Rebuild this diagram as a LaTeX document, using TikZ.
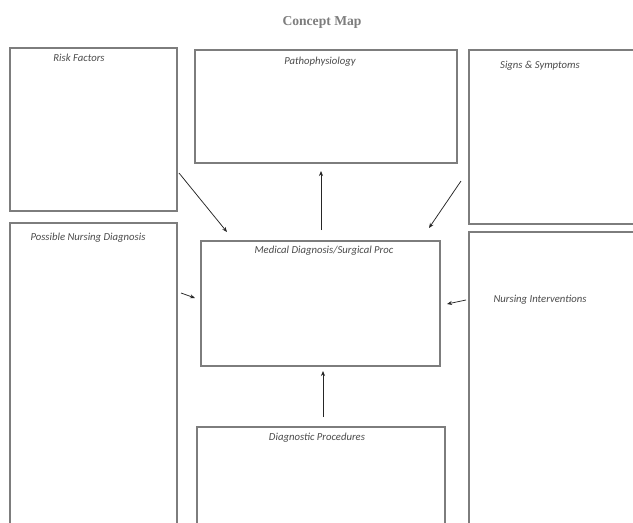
\documentclass[tikz,border=0pt]{standalone}
\usepackage{fontspec}
\setmainfont{Liberation Serif}
\newfontfamily\boxfont{Carlito}
\usetikzlibrary{arrows.meta}
\definecolor{boxline}{RGB}{125,125,125}
\definecolor{labeltext}{RGB}{75,75,75}
\definecolor{titletext}{RGB}{125,125,125}
\tikzset{
  mapbox/.style={draw=boxline, line width=1.6pt, fill=white, rectangle, anchor=north west, inner sep=0pt},
  boxlabel/.style={font=\boxfont\itshape\fontsize{10.7}{12}\selectfont, text=labeltext, inner sep=0pt},
  link/.style={draw=black!85, line width=0.75pt, -{Stealth[length=5pt,width=4pt]}}
}
\begin{document}
\begin{tikzpicture}[x=1pt,y=-1pt]
\path[use as bounding box, clip] (0,0) rectangle (633,523);
\fill[white] (0,0) rectangle (633,523);
% title
\node[font=\bfseries\fontsize{13.6}{15}\selectfont, text=titletext] (title) at (322,22) {Concept Map};
% boxes
\node[mapbox, minimum width=167pt, minimum height=163pt] (risk) at (9,47) {};
\node[mapbox, minimum width=262pt, minimum height=113pt] (patho) at (194,49) {};
\node[mapbox, minimum width=180pt, minimum height=174pt] (signs) at (468,49) {};
\node[mapbox, minimum width=167pt, minimum height=320pt] (pnd) at (9,222) {};
\node[mapbox, minimum width=239pt, minimum height=125pt] (med) at (200,240) {};
\node[mapbox, minimum width=180pt, minimum height=320pt] (nint) at (468,231) {};
\node[mapbox, minimum width=248pt, minimum height=120pt] (diag) at (196,426) {};
% labels
\node[boxlabel] (riskL) at (79,58) {Risk Factors};
\node[boxlabel] (pathoL) at (320,62) {Pathophysiology};
\node[boxlabel] (signsL) at (540,66) {Signs \& Symptoms};
\node[boxlabel] (pndL) at (88,238) {Possible Nursing Diagnosis};
\node[boxlabel] (medL) at (324,251) {Medical Diagnosis/Surgical Proc};
\node[boxlabel] (nintL) at (540,300) {Nursing Interventions};
\node[boxlabel] (diagL) at (317,438) {Diagnostic Procedures};
% connector end points
\coordinate (a1s) at (179,173); \coordinate (a1e) at (227,232);
\coordinate (a2s) at (321,230); \coordinate (a2e) at (321,171);
\coordinate (a3s) at (461,181); \coordinate (a3e) at (429,228);
\coordinate (a4s) at (181,293); \coordinate (a4e) at (195,298);
\coordinate (a5s) at (466,300); \coordinate (a5e) at (447,304);
\coordinate (a6s) at (323,417); \coordinate (a6e) at (323,371);
\draw[link] (a1s) -- (a1e);
\draw[link] (a2s) -- (a2e);
\draw[link] (a3s) -- (a3e);
\draw[link] (a4s) -- (a4e);
\draw[link] (a5s) -- (a5e);
\draw[link] (a6s) -- (a6e);
\end{tikzpicture}
\end{document}
